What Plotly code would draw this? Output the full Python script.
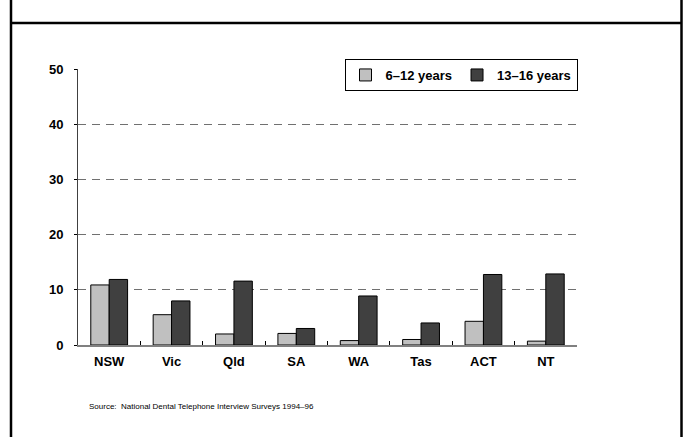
import plotly.graph_objects as go

categories = ["NSW", "Vic", "Qld", "SA", "WA", "Tas", "ACT", "NT"]
series_names = ["6–12 years", "13–16 years"]
values_6_12 = [10.9, 5.5, 2.0, 2.1, 0.8, 1.0, 4.3, 0.7]
values_13_16 = [11.9, 8.0, 11.6, 3.0, 8.9, 4.0, 12.8, 12.9]
y_ticks = [0, 10, 20, 30, 40, 50]
source_text = "Source:  National Dental Telephone Interview Surveys 1994–96"

OFF = 0  # page body margin removed by post_script
W, H = 686 - OFF, 437 - OFF
# target plot area in window pixels: x 78..577, y 69..345
L = 78 - OFF
T = 69 - OFF
R = W - (577 - OFF)
B = H - (345 - OFF)
pw, ph = W - L - R, H - T - B

def px_x(x):
    return (x - OFF - L) / pw

def px_y(y):
    return (H - B - (y - OFF)) / ph

fig = go.Figure()
fig.add_trace(go.Bar(name=series_names[0], x=categories, y=values_6_12,
                     marker=dict(color="#c0c0c0", line=dict(color="#000000", width=1))))
fig.add_trace(go.Bar(name=series_names[1], x=categories, y=values_13_16,
                     marker=dict(color="#404040", line=dict(color="#000000", width=1))))

font_family = "Liberation Sans, Arial, sans-serif"

fig.update_layout(
    width=W, height=H,
    margin=dict(l=L, r=R, t=T, b=B, pad=0),
    paper_bgcolor="white", plot_bgcolor="white",
    barmode="group", bargap=0.41, bargroupgap=0,
    font=dict(family=font_family, color="#000000"),
    showlegend=True,
    legend=dict(
        orientation="h",
        x=px_x(461), y=px_y(59), xanchor="center", yanchor="top",
        bgcolor="white", bordercolor="#000000", borderwidth=1,
        font=dict(family=font_family, size=13, color="#000000", weight="bold"),
        itemwidth=30, tracegroupgap=0,
    ),
    xaxis=dict(
        showline=True, linecolor="#808080", linewidth=1.5,
        ticks="inside", tickson="boundaries", ticklen=4, tickcolor="#000000", tickwidth=1,
        tickfont=dict(family=font_family, size=13, weight="bold"),
        ticklabelstandoff=4,
        showgrid=False, zeroline=False,
    ),
    yaxis=dict(
        range=[0, 50.1], tickvals=y_ticks,
        showline=True, linecolor="#404040", linewidth=1,
        ticks="outside", ticklen=3, tickcolor="#000000",
        tickfont=dict(family=font_family, size=13, weight="bold"),
        ticklabelstandoff=8,
        showgrid=True, gridcolor="#707070", griddash="8px,6px", gridwidth=1,
        zeroline=False,
    ),
    annotations=[dict(
        text=source_text, xref="paper", yref="paper",
        x=px_x(87), y=px_y(406), xanchor="left", yanchor="middle",
        showarrow=False, font=dict(family=font_family, size=8, color="#000000"),
    )],
    shapes=[
        dict(type="line", xref="paper", yref="paper", x0=px_x(11), x1=px_x(11), y0=px_y(0), y1=px_y(437),
             line=dict(color="#000000", width=2.5)),
        dict(type="line", xref="paper", yref="paper", x0=px_x(681.5), x1=px_x(681.5), y0=px_y(0), y1=px_y(437),
             line=dict(color="#000000", width=2.5)),
        dict(type="line", xref="paper", yref="paper", x0=px_x(11), x1=px_x(681.5), y0=px_y(23), y1=px_y(23),
             line=dict(color="#000000", width=2.5)),
    ],
)

fig.write_html(
    "out.html",
    config={"displayModeBar": False},
    post_script=(
        "document.documentElement.style.overflow='hidden';"
        "document.body.style.overflow='hidden';"
        "document.body.style.margin='0';"
    ),
)
